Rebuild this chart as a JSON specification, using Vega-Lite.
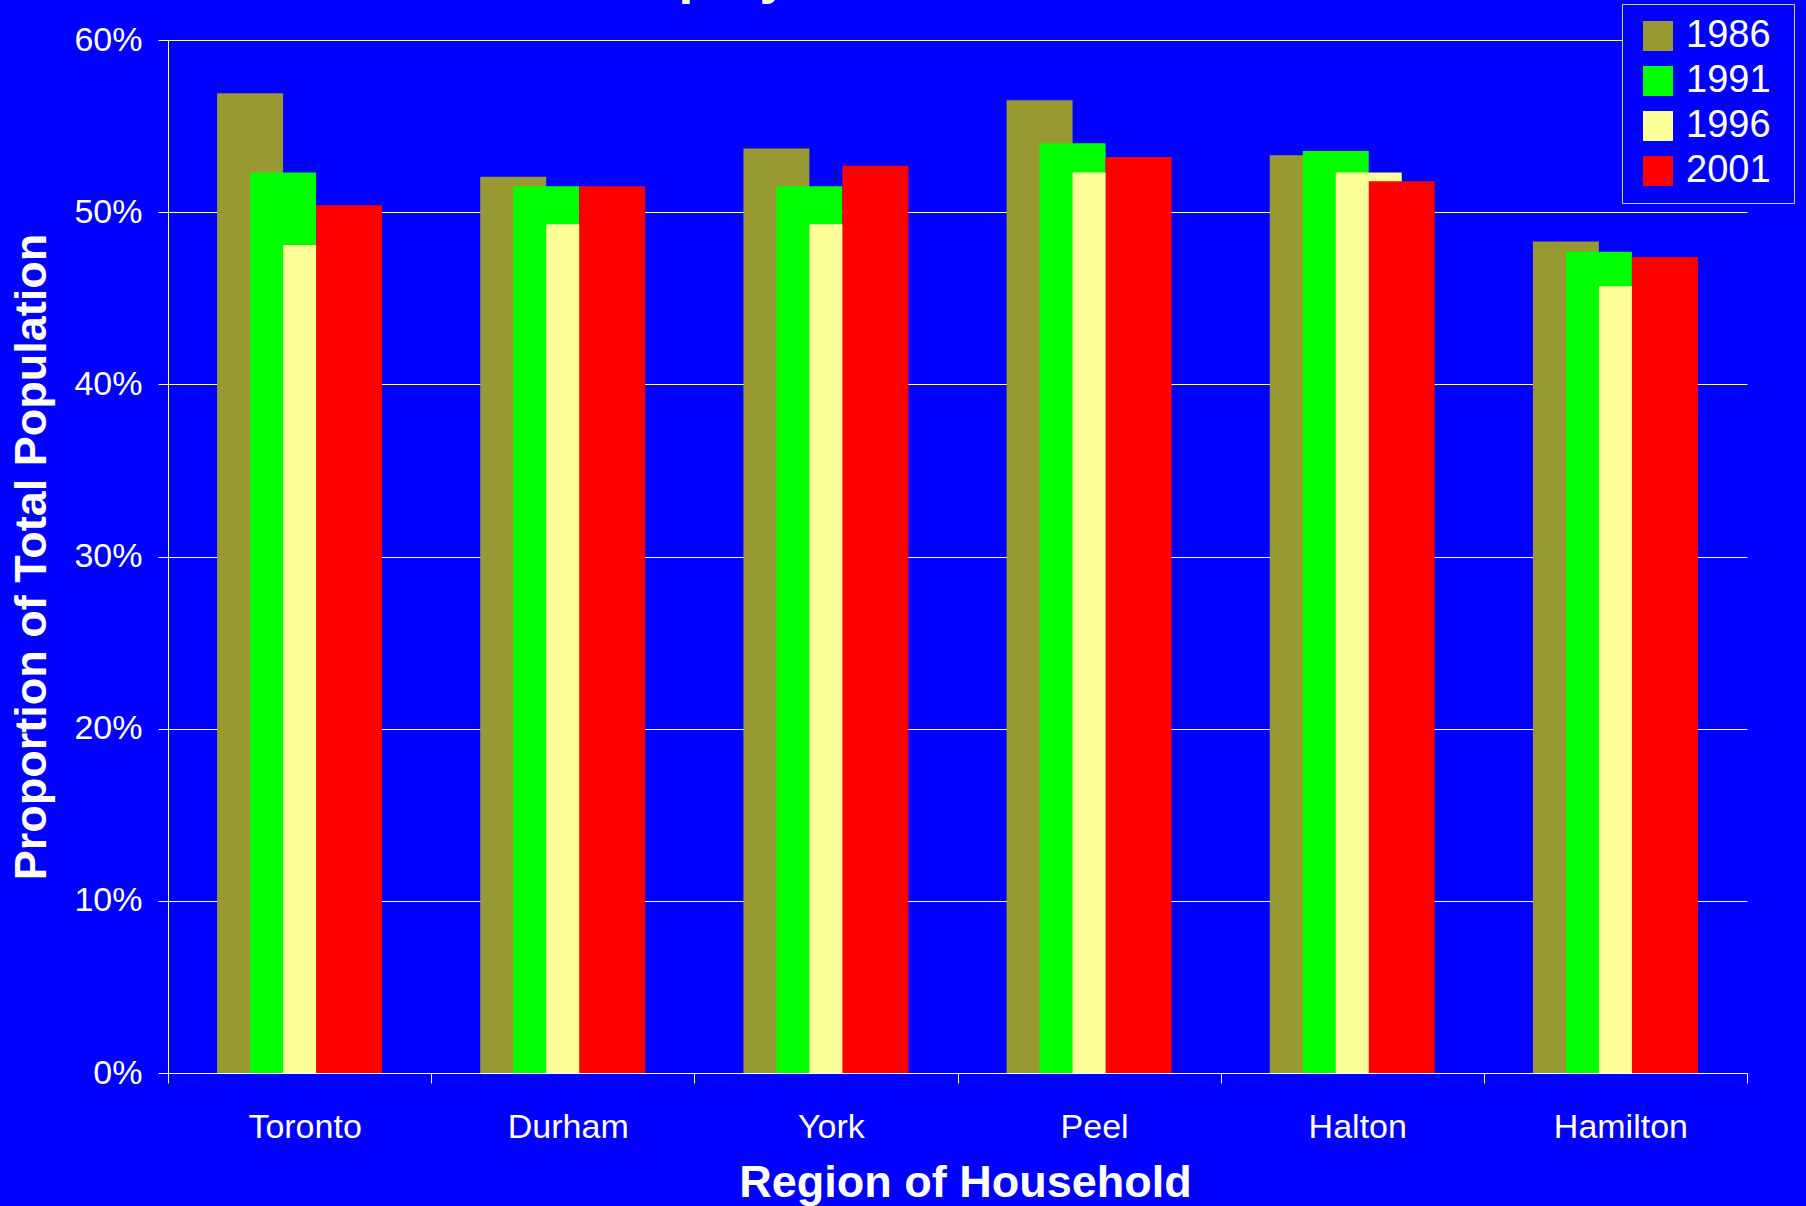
{
  "$schema": "https://vega.github.io/schema/vega-lite/v6.json",
  "width": 1579,
  "height": 1033,
  "autosize": {"type": "none"},
  "padding": {"left": 168, "top": 40, "right": 59, "bottom": 133},
  "background": "#0000FF",
  "title": {"text": "Employed Labour Force", "anchor": "middle", "frame": "group", "baseline": "alphabetic", "offset": -6, "dx": -54, "dy": 37, "fontSize": 54, "fontWeight": "bold", "color": "white"},
  "data": {"values": [
    {"Region": "Toronto", "Year": "1986", "Share": 0.569},
    {"Region": "Toronto", "Year": "1991", "Share": 0.523},
    {"Region": "Toronto", "Year": "1996", "Share": 0.481},
    {"Region": "Toronto", "Year": "2001", "Share": 0.504},
    {"Region": "Durham", "Year": "1986", "Share": 0.5205},
    {"Region": "Durham", "Year": "1991", "Share": 0.515},
    {"Region": "Durham", "Year": "1996", "Share": 0.493},
    {"Region": "Durham", "Year": "2001", "Share": 0.515},
    {"Region": "York", "Year": "1986", "Share": 0.537},
    {"Region": "York", "Year": "1991", "Share": 0.515},
    {"Region": "York", "Year": "1996", "Share": 0.493},
    {"Region": "York", "Year": "2001", "Share": 0.527},
    {"Region": "Peel", "Year": "1986", "Share": 0.565},
    {"Region": "Peel", "Year": "1991", "Share": 0.540},
    {"Region": "Peel", "Year": "1996", "Share": 0.523},
    {"Region": "Peel", "Year": "2001", "Share": 0.532},
    {"Region": "Halton", "Year": "1986", "Share": 0.533},
    {"Region": "Halton", "Year": "1991", "Share": 0.5355},
    {"Region": "Halton", "Year": "1996", "Share": 0.523},
    {"Region": "Halton", "Year": "2001", "Share": 0.518},
    {"Region": "Hamilton", "Year": "1986", "Share": 0.483},
    {"Region": "Hamilton", "Year": "1991", "Share": 0.477},
    {"Region": "Hamilton", "Year": "1996", "Share": 0.457},
    {"Region": "Hamilton", "Year": "2001", "Share": 0.474}
  ]},
  "layer": [
    {
      "mark": {"type": "bar", "opacity": 0},
      "encoding": {
        "x": {
          "field": "Region", "type": "nominal", "sort": null,
          "scale": {"paddingInner": 0, "paddingOuter": 0},
          "axis": {
            "title": "Region of Household", "titleFontSize": 45, "titleFontWeight": "bold", "titleColor": "white", "titlePadding": 16, "titleX": 797,
            "labelAngle": 0, "labelFontSize": 34, "labelColor": "white", "labelPadding": 27, "labelOffset": 5,
            "tickBand": "extent", "tickSize": 10, "tickColor": "white", "domainColor": "white", "grid": false
          }
        }
      }
    },
    {
      "mark": {"type": "bar", "width": 66},
      "encoding": {
        "x": {
          "field": "Region", "type": "nominal", "sort": null,
          "scale": {"paddingInner": 0.4984, "paddingOuter": 0.2492},
          "axis": null
        },
        "xOffset": {"field": "Year", "type": "nominal", "sort": null, "scale": {"paddingInner": 0, "paddingOuter": 0}},
        "y": {
          "field": "Share", "type": "quantitative",
          "scale": {"domain": [0, 0.6], "nice": false},
          "axis": {
            "values": [0, 0.1, 0.2, 0.3, 0.4, 0.5, 0.6], "format": ".0%",
            "title": "Proportion of Total Population", "titleFontSize": 45, "titleFontWeight": "bold", "titleColor": "white", "titlePadding": 19,
            "labelFontSize": 34, "labelColor": "white", "labelPadding": 16,
            "tickSize": 10, "tickColor": "white", "domainColor": "white",
            "grid": true, "gridColor": "white", "gridOpacity": 1, "gridWidth": 1
          }
        },
        "color": {
          "field": "Year", "type": "nominal",
          "scale": {"domain": ["1986", "1991", "1996", "2001"], "range": ["#999933", "#00FF00", "#FFFF99", "#FF0000"]},
          "legend": {
            "title": " ", "titleOrient": "right", "titleFontSize": 2, "titlePadding": 10,
            "orient": "none", "legendX": 1454, "legendY": -36,
            "fillColor": "#0000FF", "strokeColor": "#C8C8FF", "padding": 13, "symbolOffset": 4,
            "symbolType": "square", "symbolSize": 900, "symbolStrokeWidth": 0, "symbolOpacity": 1,
            "labelFontSize": 38, "labelColor": "white", "labelOffset": 9, "rowPadding": 7
          }
        }
      }
    }
  ],
  "resolve": {"scale": {"x": "independent"}},
  "config": {"font": "Liberation Sans", "view": {"stroke": null}}
}
